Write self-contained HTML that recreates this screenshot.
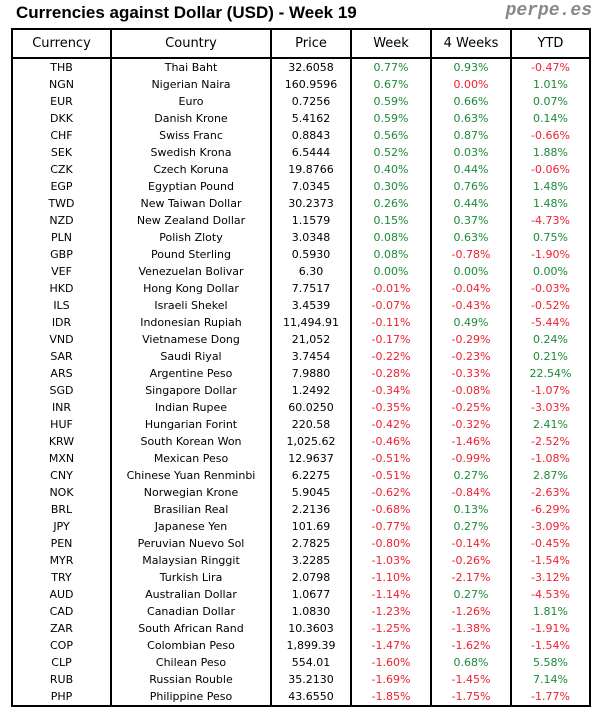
<!DOCTYPE html>
<html><head><meta charset="utf-8"><style>
body{margin:0;background:#fff;width:604px;height:716px;position:relative;font-family:"DejaVu Sans","Liberation Sans",sans-serif;overflow:hidden}
.t{position:absolute;left:16px;top:3px;font-family:"Liberation Sans",sans-serif;font-size:17px;font-weight:bold;color:#000}
.p{position:absolute;right:12px;top:1px;font-family:"Liberation Mono",monospace;font-weight:bold;font-style:italic;font-size:18px;color:#888}
table{position:absolute;left:11px;top:28px;border-collapse:collapse;border:2px solid #000;font-size:11px;color:#000}
td,th{text-align:center;padding:0;border-left:2px solid #000;height:17px;line-height:17px;white-space:nowrap}
th{font-weight:normal;font-size:13px;height:27px;line-height:27px;border-bottom:2px solid #000}
.g{color:#1a8a3a}.r{color:#f0202e}
</style></head><body>
<div class="t">Currencies against Dollar (USD) - Week 19</div>
<div class="p">perpe.es</div>
<table>
<colgroup><col style="width:99px"><col style="width:160px"><col style="width:80px"><col style="width:80px"><col style="width:80px"><col style="width:79px"></colgroup>
<tr><th>Currency</th><th>Country</th><th>Price</th><th>Week</th><th>4 Weeks</th><th>YTD</th></tr>
<tr><td>THB</td><td>Thai Baht</td><td>32.6058</td><td class="g">0.77%</td><td class="g">0.93%</td><td class="r">-0.47%</td></tr>
<tr><td>NGN</td><td>Nigerian Naira</td><td>160.9596</td><td class="g">0.67%</td><td class="r">0.00%</td><td class="g">1.01%</td></tr>
<tr><td>EUR</td><td>Euro</td><td>0.7256</td><td class="g">0.59%</td><td class="g">0.66%</td><td class="g">0.07%</td></tr>
<tr><td>DKK</td><td>Danish Krone</td><td>5.4162</td><td class="g">0.59%</td><td class="g">0.63%</td><td class="g">0.14%</td></tr>
<tr><td>CHF</td><td>Swiss Franc</td><td>0.8843</td><td class="g">0.56%</td><td class="g">0.87%</td><td class="r">-0.66%</td></tr>
<tr><td>SEK</td><td>Swedish Krona</td><td>6.5444</td><td class="g">0.52%</td><td class="g">0.03%</td><td class="g">1.88%</td></tr>
<tr><td>CZK</td><td>Czech Koruna</td><td>19.8766</td><td class="g">0.40%</td><td class="g">0.44%</td><td class="r">-0.06%</td></tr>
<tr><td>EGP</td><td>Egyptian Pound</td><td>7.0345</td><td class="g">0.30%</td><td class="g">0.76%</td><td class="g">1.48%</td></tr>
<tr><td>TWD</td><td>New Taiwan Dollar</td><td>30.2373</td><td class="g">0.26%</td><td class="g">0.44%</td><td class="g">1.48%</td></tr>
<tr><td>NZD</td><td>New Zealand Dollar</td><td>1.1579</td><td class="g">0.15%</td><td class="g">0.37%</td><td class="r">-4.73%</td></tr>
<tr><td>PLN</td><td>Polish Zloty</td><td>3.0348</td><td class="g">0.08%</td><td class="g">0.63%</td><td class="g">0.75%</td></tr>
<tr><td>GBP</td><td>Pound Sterling</td><td>0.5930</td><td class="g">0.08%</td><td class="r">-0.78%</td><td class="r">-1.90%</td></tr>
<tr><td>VEF</td><td>Venezuelan Bolivar</td><td>6.30</td><td class="g">0.00%</td><td class="g">0.00%</td><td class="g">0.00%</td></tr>
<tr><td>HKD</td><td>Hong Kong Dollar</td><td>7.7517</td><td class="r">-0.01%</td><td class="r">-0.04%</td><td class="r">-0.03%</td></tr>
<tr><td>ILS</td><td>Israeli Shekel</td><td>3.4539</td><td class="r">-0.07%</td><td class="r">-0.43%</td><td class="r">-0.52%</td></tr>
<tr><td>IDR</td><td>Indonesian Rupiah</td><td>11,494.91</td><td class="r">-0.11%</td><td class="g">0.49%</td><td class="r">-5.44%</td></tr>
<tr><td>VND</td><td>Vietnamese Dong</td><td>21,052</td><td class="r">-0.17%</td><td class="r">-0.29%</td><td class="g">0.24%</td></tr>
<tr><td>SAR</td><td>Saudi Riyal</td><td>3.7454</td><td class="r">-0.22%</td><td class="r">-0.23%</td><td class="g">0.21%</td></tr>
<tr><td>ARS</td><td>Argentine Peso</td><td>7.9880</td><td class="r">-0.28%</td><td class="r">-0.33%</td><td class="g">22.54%</td></tr>
<tr><td>SGD</td><td>Singapore Dollar</td><td>1.2492</td><td class="r">-0.34%</td><td class="r">-0.08%</td><td class="r">-1.07%</td></tr>
<tr><td>INR</td><td>Indian Rupee</td><td>60.0250</td><td class="r">-0.35%</td><td class="r">-0.25%</td><td class="r">-3.03%</td></tr>
<tr><td>HUF</td><td>Hungarian Forint</td><td>220.58</td><td class="r">-0.42%</td><td class="r">-0.32%</td><td class="g">2.41%</td></tr>
<tr><td>KRW</td><td>South Korean Won</td><td>1,025.62</td><td class="r">-0.46%</td><td class="r">-1.46%</td><td class="r">-2.52%</td></tr>
<tr><td>MXN</td><td>Mexican Peso</td><td>12.9637</td><td class="r">-0.51%</td><td class="r">-0.99%</td><td class="r">-1.08%</td></tr>
<tr><td>CNY</td><td>Chinese Yuan Renminbi</td><td>6.2275</td><td class="r">-0.51%</td><td class="g">0.27%</td><td class="g">2.87%</td></tr>
<tr><td>NOK</td><td>Norwegian Krone</td><td>5.9045</td><td class="r">-0.62%</td><td class="r">-0.84%</td><td class="r">-2.63%</td></tr>
<tr><td>BRL</td><td>Brasilian Real</td><td>2.2136</td><td class="r">-0.68%</td><td class="g">0.13%</td><td class="r">-6.29%</td></tr>
<tr><td>JPY</td><td>Japanese Yen</td><td>101.69</td><td class="r">-0.77%</td><td class="g">0.27%</td><td class="r">-3.09%</td></tr>
<tr><td>PEN</td><td>Peruvian Nuevo Sol</td><td>2.7825</td><td class="r">-0.80%</td><td class="r">-0.14%</td><td class="r">-0.45%</td></tr>
<tr><td>MYR</td><td>Malaysian Ringgit</td><td>3.2285</td><td class="r">-1.03%</td><td class="r">-0.26%</td><td class="r">-1.54%</td></tr>
<tr><td>TRY</td><td>Turkish Lira</td><td>2.0798</td><td class="r">-1.10%</td><td class="r">-2.17%</td><td class="r">-3.12%</td></tr>
<tr><td>AUD</td><td>Australian Dollar</td><td>1.0677</td><td class="r">-1.14%</td><td class="g">0.27%</td><td class="r">-4.53%</td></tr>
<tr><td>CAD</td><td>Canadian Dollar</td><td>1.0830</td><td class="r">-1.23%</td><td class="r">-1.26%</td><td class="g">1.81%</td></tr>
<tr><td>ZAR</td><td>South African Rand</td><td>10.3603</td><td class="r">-1.25%</td><td class="r">-1.38%</td><td class="r">-1.91%</td></tr>
<tr><td>COP</td><td>Colombian Peso</td><td>1,899.39</td><td class="r">-1.47%</td><td class="r">-1.62%</td><td class="r">-1.54%</td></tr>
<tr><td>CLP</td><td>Chilean Peso</td><td>554.01</td><td class="r">-1.60%</td><td class="g">0.68%</td><td class="g">5.58%</td></tr>
<tr><td>RUB</td><td>Russian Rouble</td><td>35.2130</td><td class="r">-1.69%</td><td class="r">-1.45%</td><td class="g">7.14%</td></tr>
<tr><td>PHP</td><td>Philippine Peso</td><td>43.6550</td><td class="r">-1.85%</td><td class="r">-1.75%</td><td class="r">-1.77%</td></tr>
</table>
</body></html>
